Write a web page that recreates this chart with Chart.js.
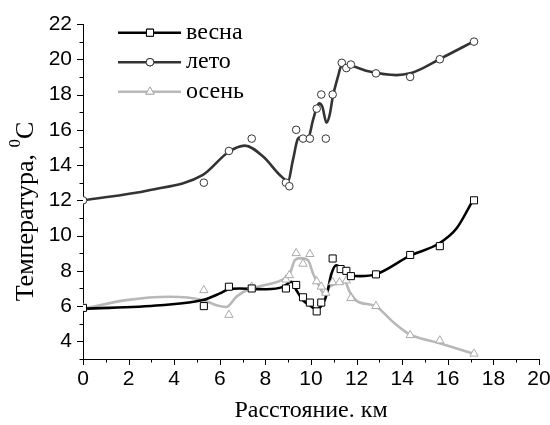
<!DOCTYPE html>
<html>
<head>
<meta charset="utf-8">
<script src="https://cdn.jsdelivr.net/npm/chart.js@4"></script>
<style>
  body { margin: 0; background: #fff; }
  #wrap { width: 550px; height: 425px; }
</style>
</head>
<body>
<div id="wrap"><canvas id="tempChart"></canvas></div>
<script>
// tick labels
const xTicks = [0, 2, 4, 6, 8, 10, 12, 14, 16, 18, 20];
const yTicks = [4, 6, 8, 10, 12, 14, 16, 18, 20, 22];

// measured points
const springX = [0, 5.3, 6.4, 7.4, 8.9, 9.35, 9.65, 9.95, 10.25, 10.45, 10.95, 11.3, 11.55, 11.75, 12.85, 14.35, 15.65, 17.15];
const springY = [5.9, 6.0, 7.1, 7.0, 7.0, 7.2, 6.5, 6.2, 5.7, 6.2, 8.7, 8.1, 8.0, 7.7, 7.8, 8.9, 9.4, 12.0];
const summerX = [0, 5.3, 6.4, 7.4, 8.9, 9.05, 9.35, 9.65, 9.95, 10.25, 10.45, 10.65, 10.95, 11.35, 11.55, 11.75, 12.85, 14.35, 15.65, 17.15];
const summerY = [12.0, 13.0, 14.8, 15.5, 13.0, 12.8, 16.0, 15.5, 15.5, 17.2, 18.0, 15.5, 18.0, 19.8, 19.5, 19.7, 19.2, 19.0, 20.0, 21.0];
const autumnX = [0, 5.3, 6.4, 7.4, 8.9, 9.05, 9.35, 9.65, 9.95, 10.25, 10.45, 10.65, 10.95, 11.25, 11.55, 11.75, 12.85, 14.35, 15.65, 17.15];
const autumnY = [5.9, 6.9, 5.5, 7.1, 7.5, 7.75, 9.0, 8.4, 8.95, 7.4, 7.1, 6.75, 7.35, 7.35, 7.45, 6.45, 6.0, 4.35, 4.05, 3.3];

// smoothed curves
const springCurveX = [0, 3.4, 5.26, 6.0, 6.36, 6.87, 8.04, 8.77, 9.14, 9.36, 9.65, 9.94, 10.24, 10.53, 10.7, 10.9, 11.11, 11.33, 11.7, 12.14, 12.84, 14.33, 15.61, 16.38, 17.1];
const springCurveY = [5.84, 6.05, 6.34, 6.72, 6.94, 7.0, 6.96, 7.09, 7.38, 6.9, 6.33, 6.05, 5.82, 6.15, 6.72, 7.85, 8.32, 8.14, 7.75, 7.7, 7.8, 8.85, 9.55, 10.4, 12.0];
const summerCurveX = [0, 2.9, 5.26, 6.38, 7.09, 7.9, 8.63, 8.99, 9.21, 9.43, 9.6, 9.87, 10.09, 10.35, 10.5, 10.68, 10.82, 10.96, 11.18, 11.33, 11.6, 11.84, 12.57, 13.75, 14.34, 14.91, 15.63, 17.12];
const summerCurveY = [12.0, 12.57, 13.44, 14.74, 15.1, 14.48, 13.44, 13.1, 14.3, 15.5, 15.6, 15.52, 16.56, 17.5, 17.3, 16.4, 16.85, 17.9, 19.0, 19.6, 19.65, 19.6, 19.3, 19.1, 19.2, 19.5, 20.0, 21.0];
const autumnCurveX = [0, 1.9, 3.8, 5.26, 5.85, 6.29, 6.73, 7.17, 7.75, 8.7, 9.07, 9.29, 9.5, 9.87, 10.09, 10.38, 10.6, 10.82, 11.11, 11.48, 11.7, 12.0, 12.84, 13.6, 14.33, 15.61, 17.1];
const autumnCurveY = [5.84, 6.34, 6.53, 6.34, 6.05, 5.95, 6.53, 6.9, 7.13, 7.47, 7.85, 8.6, 8.72, 8.6, 7.85, 7.09, 6.65, 7.09, 7.28, 7.37, 6.8, 6.3, 5.99, 5.1, 4.4, 3.91, 3.31];

const seriesNames = ["весна", "лето", "осень"];

const zip = (xs, ys) => xs.map((x, i) => ({ x: x, y: ys[i] }));

const curveStyle = (color) => ({
    showLine: true,
    pointRadius: 0,
    borderColor: color,
    borderWidth: 2.6,
    cubicInterpolationMode: "monotone",
    order: 2,
});
const markStyle = (style, radius, color) => ({
    showLine: false,
    pointStyle: style,
    pointRadius: radius,
    pointBackgroundColor: "#fff",
    pointBorderColor: color,
    pointBorderWidth: 1,
    order: 1,
});

const serif = "'Liberation Serif', 'Times New Roman', serif";
const sans = "'Liberation Sans', Arial, sans-serif";

// axis ticks, titles and legend
const decor = {
    id: "decor",
    afterDraw(chart) {
        const c = chart.ctx;
        const xs = chart.scales.x, ys = chart.scales.y;
        const area = chart.chartArea;
        c.save();
        c.strokeStyle = "#000";
        c.lineWidth = 1;
        c.beginPath();
        for (let v = 0; v <= 20; v++) {
            const px = Math.round(xs.getPixelForValue(v)) + 0.5;
            c.moveTo(px, area.bottom);
            c.lineTo(px, area.bottom + (v % 2 === 0 ? 6 : 3.5));
        }
        for (let v = 3; v <= 22; v++) {
            const py = Math.round(ys.getPixelForValue(v)) + 0.5;
            c.moveTo(area.left, py);
            c.lineTo(area.left - (v % 2 === 0 ? 6 : 3.5), py);
        }
        c.stroke();

        // x title
        c.fillStyle = "#000";
        c.font = "24px " + serif;
        c.textAlign = "center";
        c.textBaseline = "middle";
        c.fillText("Расстояние. км", (area.left + area.right) / 2, 411);

        // y title with superscript
        c.translate(26, 211.5);
        c.rotate(-Math.PI / 2);
        c.textAlign = "left";
        c.textBaseline = "middle";
        const main = "Температура, ";
        c.font = "26px " + serif;
        const w1 = c.measureText(main).width;
        const w3 = c.measureText("C").width;
        c.font = "17px " + serif;
        const w2 = c.measureText("0").width;
        const total = w1 + w2 + w3;
        let x0 = -total / 2;
        c.font = "26px " + serif;
        c.fillText(main, x0, 0);
        c.font = "17px " + serif;
        c.fillText("0", x0 + w1, -10);
        c.font = "26px " + serif;
        c.fillText("C", x0 + w1 + w2, 0);
        c.restore();

        // legend
        const legend = [
            { color: "#000", mark: "#000", style: "rect", r: 5 },
            { color: "#333", mark: "#333", style: "circle", r: 3.8 },
            { color: "#b8b8b8", mark: "#aaa", style: "triangle", r: 4.8 },
        ];
        c.save();
        legend.forEach((item, i) => {
            const y = 32.7 + i * 29.5;
            c.strokeStyle = item.color;
            c.lineWidth = 2.6;
            c.beginPath();
            c.moveTo(118, y);
            c.lineTo(181, y);
            c.stroke();
            c.fillStyle = "#fff";
            c.strokeStyle = item.mark;
            c.lineWidth = 1;
            Chart.helpers.drawPoint(c, { pointStyle: item.style, radius: item.r, borderWidth: 1 }, 150, y);
            c.fill();
            c.stroke();
            c.fillStyle = "#000";
            c.font = "24px " + serif;
            c.textAlign = "left";
            c.textBaseline = "middle";
            c.fillText(seriesNames[i], 186, y);
        });
        c.restore();
    },
};

new Chart(document.getElementById("tempChart"), {
    type: "scatter",
    data: {
        datasets: [
            Object.assign({ data: zip(springX, springY) }, markStyle("rect", 5, "#000")),
            Object.assign({ data: zip(summerX, summerY) }, markStyle("circle", 3.8, "#333")),
            Object.assign({ data: zip(autumnX, autumnY) }, markStyle("triangle", 4.8, "#aaa")),
            Object.assign({ data: zip(springCurveX, springCurveY) }, curveStyle("#000")),
            Object.assign({ data: zip(summerCurveX, summerCurveY) }, curveStyle("#333")),
            Object.assign({ data: zip(autumnCurveX, autumnCurveY) }, curveStyle("#b8b8b8")),
        ],
    },
    options: {
        responsive: true,
        maintainAspectRatio: false,
        animation: false,
        layout: { padding: { top: 24, right: 11, left: 0, bottom: 0 } },
        plugins: {
            legend: { display: false },
            tooltip: { enabled: false },
        },
        scales: {
            x: {
                type: "linear",
                min: 0,
                max: 20,
                afterBuildTicks: (s) => { s.ticks = xTicks.map((v) => ({ value: v })); },
                afterFit: (s) => { s.height = 66; s.paddingLeft = 0; s.paddingRight = 0; },
                grid: { display: false, drawTicks: false },
                border: { display: true, color: "#000", width: 1 },
                ticks: { color: "#000", padding: 8, font: { family: sans, size: 21 }, maxRotation: 0 },
            },
            y: {
                type: "linear",
                min: 3,
                max: 22,
                afterBuildTicks: (s) => { s.ticks = yTicks.map((v) => ({ value: v })); },
                afterFit: (s) => { s.width = 83; s.paddingTop = 0; s.paddingBottom = 0; },
                grid: { display: false, drawTicks: false },
                border: { display: true, color: "#000", width: 1 },
                ticks: { color: "#000", padding: 11, font: { family: sans, size: 21 } },
            },
        },
    },
    plugins: [decor],
});
</script>
</body>
</html>
